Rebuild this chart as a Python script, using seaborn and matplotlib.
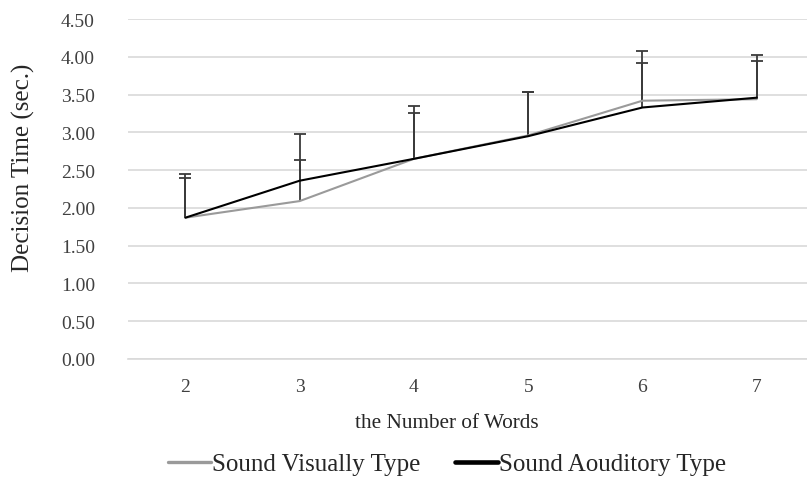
import pandas as pd
import matplotlib.pyplot as plt
import seaborn as sns

# data
words = [2, 3, 4, 5, 6, 7]
visual_mean = [1.87, 2.09, 2.65, 2.96, 3.42, 3.44]
visual_upper = [2.40, 2.64, 3.26, 3.53, 4.08, 3.95]
audit_mean = [1.87, 2.36, 2.65, 2.95, 3.33, 3.46]
audit_upper = [2.45, 2.98, 3.35, 3.53, 3.92, 4.03]
yticks = [0.0, 0.5, 1.0, 1.5, 2.0, 2.5, 3.0, 3.5, 4.0, 4.5]

sns.set_theme(style="white")
plt.rcParams['font.family'] = ['Liberation Serif', 'DejaVu Serif']

df = pd.DataFrame({
    'words': words * 2,
    'time': visual_mean + audit_mean,
    'type': ['Sound Visually Type'] * 6 + ['Sound Aouditory Type'] * 6,
})

fig = plt.figure(figsize=(8.07, 4.81), dpi=100)
ax = fig.add_axes([0.159, 0.252, 0.841, 0.706])

# upward-only error bars (drawn under the lines), lower caps hidden
for mean, upper in [(visual_mean, visual_upper), (audit_mean, audit_upper)]:
    err = [u - m for m, u in zip(mean, upper)]
    eb = ax.errorbar(words, mean, yerr=[[0] * len(err), err], fmt='none',
                     ecolor='#3a3a3a', elinewidth=1.3, capsize=4.5, capthick=1.3, zorder=2)
    eb[1][0].set_visible(False)

sns.lineplot(data=df, x='words', y='time', hue='type',
             palette={'Sound Visually Type': '#9a9a9a', 'Sound Aouditory Type': '#000000'},
             ax=ax, zorder=3, legend=True)
widths = [2.4, 3.3]
for line, lw in zip(ax.get_lines()[-2:], widths):
    line.set_linewidth(lw)

ax.set_xlim(1.5, 7.44)
ax.set_ylim(0, 4.5)
ax.set_xticks(words)
ax.set_yticks(yticks)
ax.set_yticklabels([f"{v:.2f}" for v in yticks])
ax.yaxis.grid(True, color='#d9d9d9', linewidth=1.2)
ax.tick_params(axis='both', length=0, labelsize=14, colors='#404040')
ax.tick_params(axis='y', pad=24)
ax.tick_params(axis='x', pad=14)
for s in ['top', 'right', 'left']:
    ax.spines[s].set_visible(False)
ax.spines['bottom'].set_color('#d9d9d9')
ax.spines['bottom'].set_linewidth(1.2)

ax.set_xlabel('the Number of Words', fontsize=15.3, color='#262626')
ax.xaxis.set_label_coords(0.47, -0.16)
ax.set_ylabel('Decision Time (sec.)', fontsize=18, color='#262626')
ax.yaxis.set_label_coords(-0.138, 0.565)

handles, labels = ax.get_legend_handles_labels()
for h, lw in zip(handles, widths):
    h.set_linewidth(lw)
ax.legend(handles, labels, loc='center', bbox_to_anchor=(0.47, -0.31),
          ncol=2, frameon=False, fontsize=18, handlelength=1.7, handletextpad=0.05,
          columnspacing=1.4, labelcolor='#262626')

plt.savefig('out.png', dpi=100)
